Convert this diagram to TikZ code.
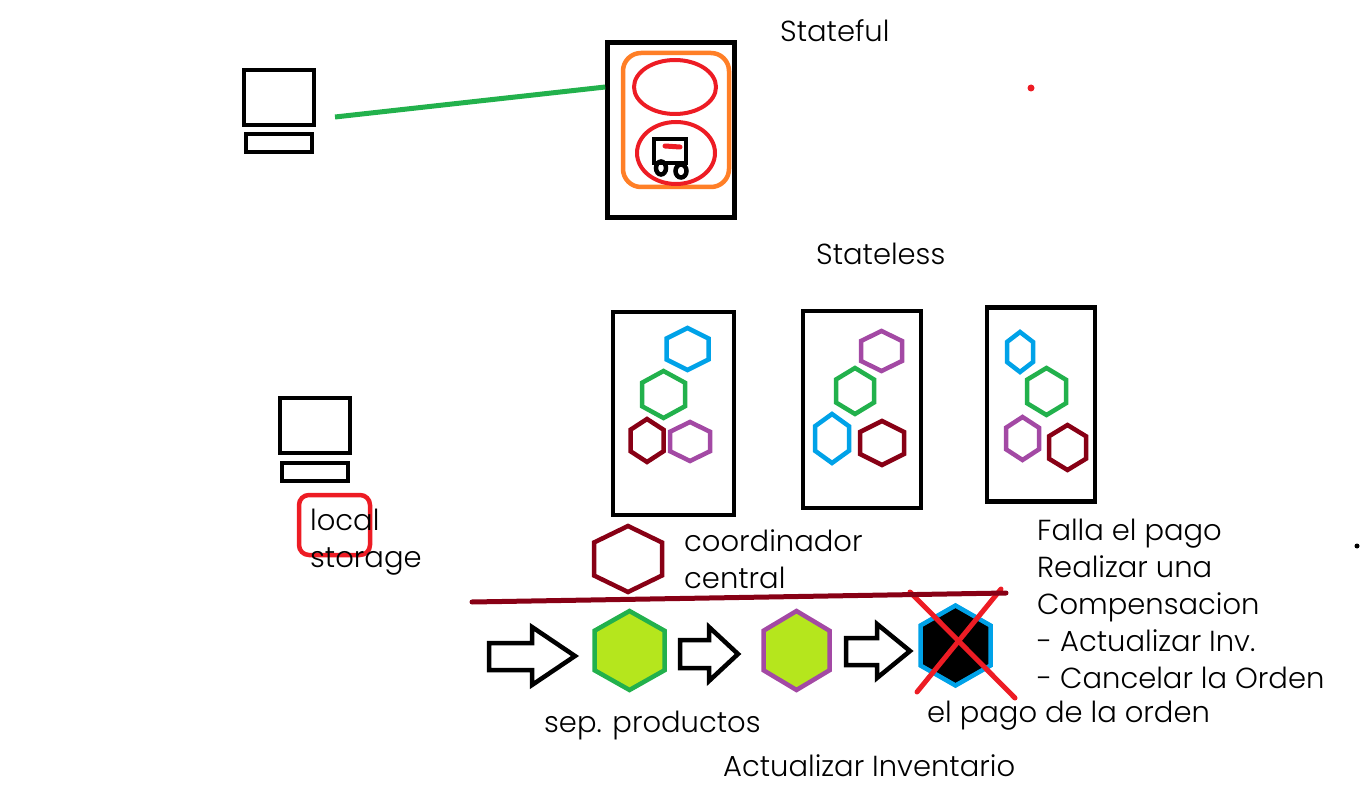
\documentclass[tikz,border=0pt]{standalone}
\usepackage{fontspec}
\setmainfont{Poppins Light}
\usetikzlibrary{positioning}
\definecolor{pRed}{HTML}{ED1C24}
\definecolor{pOrange}{HTML}{FF7F27}
\definecolor{pGreen}{HTML}{22B14C}
\definecolor{pBlue}{HTML}{00A2E8}
\definecolor{pPurple}{HTML}{A349A4}
\definecolor{pWine}{HTML}{880015}
\definecolor{pLime}{HTML}{B5E61D}
\tikzset{
  box/.style={draw=black,line width=4.5pt,inner sep=0pt,minimum width=#1},
  label/.style={anchor=base west,inner sep=0pt,font=\fontsize{29}{37}\selectfont},
  multi/.style={anchor=north west,inner sep=0pt,align=left,font=\fontsize{29}{37}\selectfont},
  hexline/.style={line width=4.5pt,line join=miter},
  outline/.style={draw=black,line width=4.5pt,line join=miter}
}
\newcommand{\hexa}[5]{\draw[hexline,#1] (#2,#3-#5) -- (#2+#4,#3-#5/2) -- (#2+#4,#3+#5/2) -- (#2,#3+#5) -- (#2-#4,#3+#5/2) -- (#2-#4,#3-#5/2) -- cycle;}

\begin{document}
\begin{tikzpicture}[x=1pt,y=-1pt]
\useasboundingbox (0,0) rectangle (1360,799);

% computers
\node[box=70pt,minimum height=55pt] (Screen1) at (279,97.5) {};
\node[box=66pt,minimum height=18pt] (Base1) at (279,143) {};
\node[box=70pt,minimum height=55pt] (Screen2) at (315,425.5) {};
\node[box=66pt,minimum height=18pt] (Base2) at (315,472) {};

% stateful
\node[box=127pt,minimum height=175pt] (Stateful) at (671,130) {};
\node[draw=pOrange,line width=4.5pt,rounded corners=18pt,inner sep=0pt,minimum width=106pt,minimum height=134pt] (Session) at (676,120) {};
\draw[pRed,line width=4pt] (675,87) ellipse [x radius=41,y radius=27];
\draw[pRed,line width=4pt] (676,153) ellipse [x radius=39,y radius=31];
\draw[line width=4.5pt] (654,139) rectangle (686,163);
\draw[line width=4.5pt] (661,168) ellipse [x radius=5,y radius=6.5];
\draw[line width=4.5pt] (681,171) ellipse [x radius=5.5,y radius=6.5];
\draw[pRed,line width=5pt,line cap=round] (665,146) -- (680,147);
\coordinate (Link1) at (335,117);
\coordinate (Link2) at (Stateful.west|-0,87);
\draw[pGreen,line width=5pt] (Link1) -- (Link2);
\fill[pRed] (1031,88) circle (3.5);

\node[label] (StatefulText) at (780,42) {Stateful};
\node[label] (StatelessText) at (816,265) {Stateless};

% stateless
\node[box=121pt,minimum height=203pt] (Pod1) at (673.5,413.5) {};
\node[box=118pt,minimum height=197pt] (Pod2) at (862,409.5) {};
\node[box=108pt,minimum height=194pt] (Pod3) at (1041,404.5) {};

\hexa{pBlue}{687.5}{349}{21}{21}
\hexa{pGreen}{663.5}{394.5}{21.5}{23.5}
\hexa{pWine}{647}{440.5}{16.5}{21.5}
\hexa{pPurple}{690}{441.5}{20}{19.5}

\hexa{pPurple}{881.5}{351}{20.5}{20}
\hexa{pGreen}{855}{391}{19}{23}
\hexa{pBlue}{832}{438.5}{17}{24.5}
\hexa{pWine}{882}{443}{22}{22}

\hexa{pBlue}{1020}{352}{13}{20}
\hexa{pGreen}{1046.5}{391.5}{19.5}{23.5}
\hexa{pPurple}{1022.5}{438.5}{16.5}{21.5}
\hexa{pWine}{1067.5}{447.5}{18.5}{22.5}

% local storage
\node[draw=pRed,line width=4.5pt,rounded corners=10pt,inner sep=0pt,minimum width=71pt,minimum height=60pt] (Storage) at (334.5,525) {};
\node[multi] (StorageText) at (310,509) {local\\storage};

% coordinador
\hexa{pWine}{628}{559}{34}{33}
\node[multi] (CoordText) at (684,529) {coordinador\\central};

% saga
\draw[outline] (489,643) -- (532,643) -- (532,627) -- (575,656) -- (532,685) -- (532,670) -- (489,670) -- cycle;
\hexa{pGreen,fill=pLime}{629.5}{650.5}{35}{39.5}
\draw[outline] (680,640) -- (709,640) -- (709,627) -- (738,654) -- (709,681) -- (709,668) -- (680,668) -- cycle;
\hexa{pPurple,fill=pLime}{796.5}{650.5}{33}{39.5}
\draw[outline] (846,638) -- (877,638) -- (877,624) -- (910,651) -- (877,678) -- (877,665) -- (846,665) -- cycle;
\hexa{pBlue,fill=black}{955.5}{645.5}{35}{40}
\coordinate (CrossA) at (910,592);
\coordinate (CrossB) at (1015,698);
\coordinate (CrossC) at (1001,589);
\coordinate (CrossD) at (917,692);
\draw[pRed,line width=5pt,line cap=round] (CrossA) -- (CrossB);
\draw[pRed,line width=5pt,line cap=round] (CrossC) -- (CrossD);
\coordinate (BarL) at (472,602);
\coordinate (BarR) at (1006,593);
\draw[pWine,line width=5pt,line cap=round] (BarL) -- (BarR);

\node[label] (SepText) at (544,732) {sep. productos};
\node[label] (InvText) at (723,776) {Actualizar Inventario};
\node[label] (PagoText) at (927,722) {el pago de la orden};
\node[multi] (FallaText) at (1037,519) {Falla el pago\\Realizar una\\Compensacion\\- Actualizar Inv.\\- Cancelar la Orden};
\fill[black] (1357,546) circle (2.5);
\end{tikzpicture}
\end{document}
